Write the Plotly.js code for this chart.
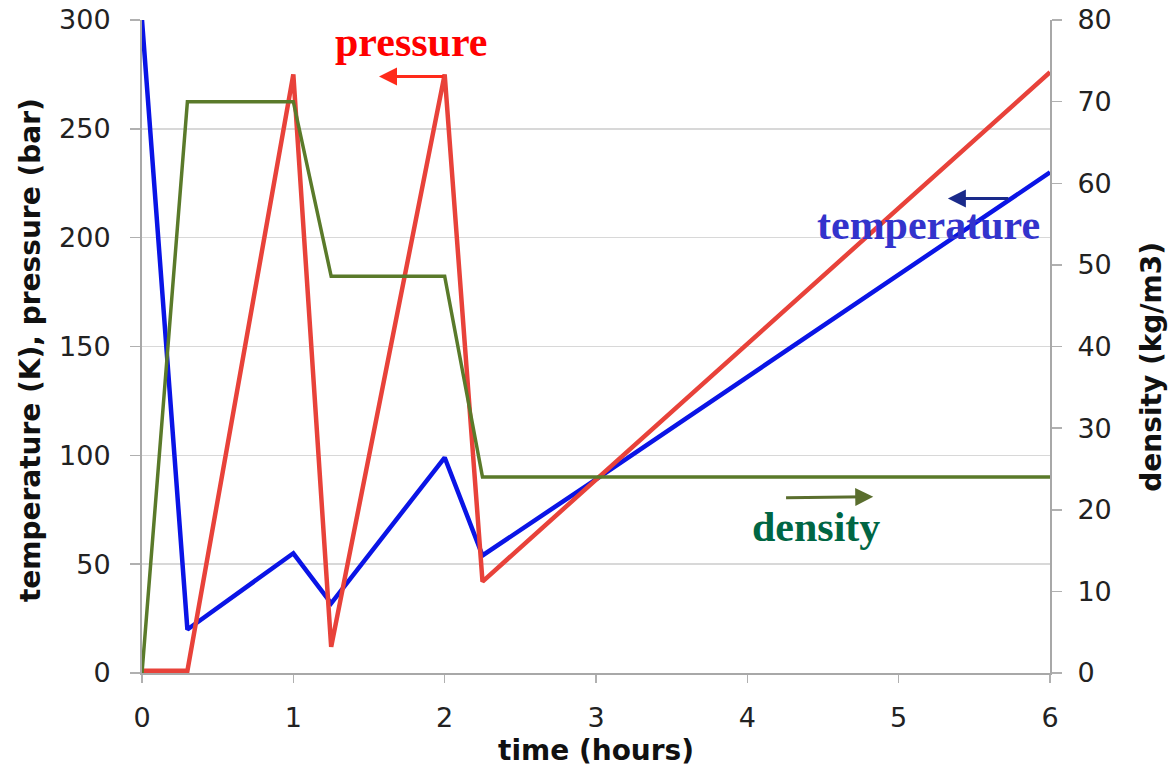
<!DOCTYPE html>
<html>
<head>
<meta charset="utf-8">
<script src="https://cdn.plot.ly/plotly-3.0.1.min.js"></script>
<style>html,body{margin:0;padding:0;background:#fff;}#chart{width:1172px;height:770px;}</style>
</head>
<body>
<div id="chart"></div>
<script>
// time (hours) and values
const tempTime = [0, 0.3, 1, 1.25, 2, 2.25, 3, 6];
const temperature = [300, 20, 55, 32, 99, 54, 89, 230];
const presTime = [0, 0.3, 1, 1.25, 2, 2.25, 6];
const pressure = [1, 1, 275, 12, 275, 42, 276];
const densTime = [0, 0.3, 1, 1.25, 2, 2.25, 6];
const density = [0, 70, 70, 48.6, 48.6, 24, 24];
const xTicks = [0, 1, 2, 3, 4, 5, 6];
const leftTicks = [0, 50, 100, 150, 200, 250, 300];
const rightTicks = [0, 10, 20, 30, 40, 50, 60, 70, 80];

const traces = [
  {x: tempTime, y: temperature, type: 'scatter', mode: 'lines', name: 'temperature',
   line: {color: '#0a14e6', width: 4.5}},
  {x: presTime, y: pressure, type: 'scatter', mode: 'lines', name: 'pressure',
   line: {color: '#e8423a', width: 4.5}},
  {x: densTime, y: density, type: 'scatter', mode: 'lines', name: 'density', yaxis: 'y2',
   line: {color: '#5a7a2a', width: 3.5}}
];

const tickFont = {family: 'DejaVu Sans, Verdana, sans-serif', size: 27, color: '#222'};
const titleFont = {family: 'DejaVu Sans, Verdana, sans-serif', size: 28, color: '#111', weight: 'bold'};
const serif = 'Liberation Serif, Times New Roman, serif';

const layout = {
  width: 1172, height: 770,
  margin: {l: 142, r: 122, t: 20, b: 97},
  paper_bgcolor: '#fff', plot_bgcolor: '#fff',
  showlegend: false,
  xaxis: {
    range: [0, 6], tickvals: xTicks, ticktext: xTicks.map(String),
    showgrid: false, zeroline: false,
    showline: true, linecolor: '#a8a8a8', linewidth: 2,
    ticks: 'outside', ticklen: 8, tickcolor: '#b0b0b0', tickwidth: 1.5,
    tickfont: tickFont, ticklabelstandoff: 12
  },
  yaxis: {
    range: [0, 300], tickvals: leftTicks, ticktext: leftTicks.map(String),
    showgrid: true, gridcolor: '#d8d8d8', gridwidth: 1.5, zeroline: false,
    showline: true, linecolor: '#a8a8a8', linewidth: 2,
    ticks: 'outside', ticklen: 10, tickcolor: '#b0b0b0', tickwidth: 1.5,
    tickfont: tickFont, ticklabelstandoff: 14
  },
  yaxis2: {
    range: [0, 80], tickvals: rightTicks, ticktext: rightTicks.map(String),
    overlaying: 'y', side: 'right',
    showgrid: false, zeroline: false,
    showline: true, linecolor: '#a8a8a8', linewidth: 2,
    ticks: 'outside', ticklen: 10, tickcolor: '#b0b0b0', tickwidth: 1.5,
    tickfont: tickFont, ticklabelstandoff: 10
  },
  annotations: [
    {xref: 'paper', yref: 'paper', x: -0.123, y: 0.495, text: 'temperature (K), pressure (bar)',
     textangle: -90, showarrow: false, font: titleFont, xanchor: 'center', yanchor: 'middle'},
    {xref: 'paper', yref: 'paper', x: 1.1123, y: 0.469, text: 'density (kg/m3)',
     textangle: -90, showarrow: false, font: titleFont, xanchor: 'center', yanchor: 'middle'},
    {xref: 'paper', yref: 'paper', x: 0.5, y: -0.118, text: 'time (hours)',
     showarrow: false, font: titleFont, xanchor: 'center', yanchor: 'middle'},
    {xref: 'x', yref: 'y', x: 1.78, y: 290, text: 'pressure', showarrow: false,
     font: {family: serif, size: 42, color: '#ff0000', weight: 'bold'}},
    {xref: 'x', yref: 'y', x: 5.2, y: 206, text: 'temperature', showarrow: false,
     font: {family: serif, size: 42, color: '#3333cc', weight: 'bold'}},
    {xref: 'x', yref: 'y', x: 4.457, y: 67, text: 'density', showarrow: false,
     font: {family: serif, size: 42, color: '#006644', weight: 'bold'}},
    {xref: 'x', yref: 'y', axref: 'x', ayref: 'y', x: 1.566, y: 274, ax: 2.0, ay: 274, text: '',
     showarrow: true, arrowhead: 2, arrowsize: 1.2, arrowwidth: 3, arrowcolor: '#ff2a1a'},
    {xref: 'x', yref: 'y', axref: 'x', ayref: 'y', x: 5.325, y: 218, ax: 5.735, ay: 218, text: '',
     showarrow: true, arrowhead: 2, arrowsize: 1.2, arrowwidth: 3, arrowcolor: '#1a2a8a'},
    {xref: 'x', yref: 'y', axref: 'x', ayref: 'y', x: 4.832, y: 81, ax: 4.246, ay: 80.5, text: '',
     showarrow: true, arrowhead: 2, arrowsize: 1.2, arrowwidth: 3, arrowcolor: '#5a6e2e'}
  ]
};

Plotly.newPlot('chart', traces, layout, {displayModeBar: false, staticPlot: true});
</script>
</body>
</html>
